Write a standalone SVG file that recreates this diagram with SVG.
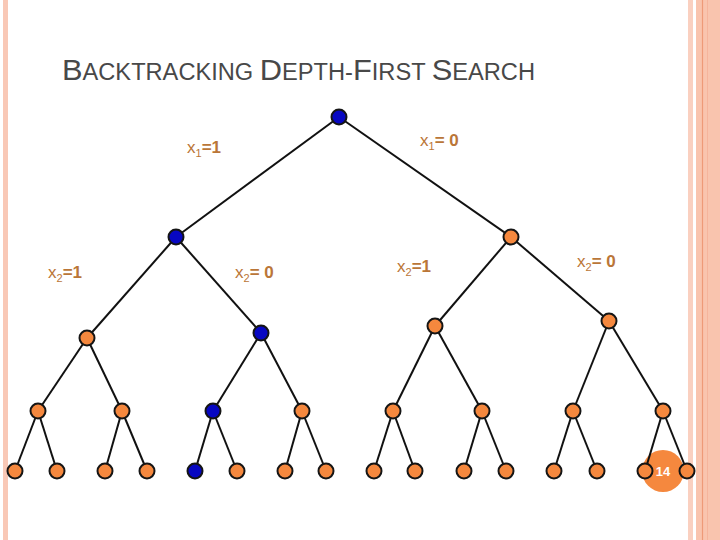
<svg xmlns="http://www.w3.org/2000/svg" width="720" height="540" viewBox="0 0 720 540">
<style>
.lbl{font-family:"Liberation Sans",Arial,sans-serif;font-size:17px;fill:#BA7638}
.sub{font-size:11px}
.b{font-weight:bold}
.o{fill:#F5883E;stroke:#151515;stroke-width:2}
.u{fill:#0707C2;stroke:#151515;stroke-width:2}
.e line{stroke:#111;stroke-width:2}
</style>
<rect width="720" height="540" fill="#fff"/>
<rect x="3" y="0" width="5" height="540" fill="#F9C8B6"/>
<rect x="688" y="0" width="5" height="540" fill="#FAD0C0"/>
<rect x="696" y="0" width="24" height="540" fill="#F9C4AE"/>
<line x1="702.5" y1="0" x2="702.5" y2="540" stroke="#EE9A78" stroke-width="1.2"/>
<line x1="707.5" y1="0" x2="707.5" y2="540" stroke="#F5B49C" stroke-width="1"/>
<text x="62" y="80" textLength="473" lengthAdjust="spacingAndGlyphs" font-family="'Liberation Sans',Arial,sans-serif" fill="#484848" font-size="23"><tspan font-size="30">B</tspan>ACKTRACKING <tspan font-size="30">D</tspan>EPTH-<tspan font-size="30">F</tspan>IRST <tspan font-size="30">S</tspan>EARCH</text>
<g id="page-number"><circle cx="663" cy="471" r="21" fill="#F5883E"/><text x="663" y="476" text-anchor="middle" font-family="'Liberation Sans',Arial,sans-serif" font-size="13" font-weight="bold" fill="#fff">14</text></g>
<g id="connectors" class="e">
<line x1="339" y1="117" x2="176" y2="237"/>
<line x1="339" y1="117" x2="511" y2="237"/>
<line x1="176" y1="237" x2="87" y2="338"/>
<line x1="176" y1="237" x2="261" y2="333"/>
<line x1="511" y1="237" x2="435" y2="326"/>
<line x1="511" y1="237" x2="609" y2="321"/>
<line x1="87" y1="338" x2="38" y2="411"/>
<line x1="87" y1="338" x2="122" y2="411"/>
<line x1="261" y1="333" x2="213" y2="411"/>
<line x1="261" y1="333" x2="302" y2="411"/>
<line x1="435" y1="326" x2="393" y2="411"/>
<line x1="435" y1="326" x2="482" y2="411"/>
<line x1="609" y1="321" x2="573" y2="411"/>
<line x1="609" y1="321" x2="663" y2="411"/>
<line x1="38" y1="411" x2="15" y2="471"/>
<line x1="38" y1="411" x2="57" y2="471"/>
<line x1="122" y1="411" x2="105" y2="471"/>
<line x1="122" y1="411" x2="147" y2="471"/>
<line x1="213" y1="411" x2="195" y2="471"/>
<line x1="213" y1="411" x2="237" y2="471"/>
<line x1="302" y1="411" x2="285" y2="471"/>
<line x1="302" y1="411" x2="326" y2="471"/>
<line x1="393" y1="411" x2="374" y2="471"/>
<line x1="393" y1="411" x2="415" y2="471"/>
<line x1="482" y1="411" x2="464" y2="471"/>
<line x1="482" y1="411" x2="506" y2="471"/>
<line x1="573" y1="411" x2="554" y2="471"/>
<line x1="573" y1="411" x2="597" y2="471"/>
<line x1="663" y1="411" x2="645" y2="471"/>
<line x1="663" y1="411" x2="687" y2="471"/>
</g>
<g id="n0"><circle class="u" cx="339" cy="117" r="7.5"/></g>
<g id="n1"><circle class="u" cx="176" cy="237" r="7.5"/></g>
<g id="n2"><circle class="o" cx="511" cy="237" r="7.5"/></g>
<g id="n3"><circle class="o" cx="87" cy="338" r="7.5"/></g>
<g id="n4"><circle class="u" cx="261" cy="333" r="7.5"/></g>
<g id="n5"><circle class="o" cx="435" cy="326" r="7.5"/></g>
<g id="n6"><circle class="o" cx="609" cy="321" r="7.5"/></g>
<g id="n7"><circle class="o" cx="38" cy="411" r="7.5"/></g>
<g id="n8"><circle class="o" cx="122" cy="411" r="7.5"/></g>
<g id="n9"><circle class="u" cx="213" cy="411" r="7.5"/></g>
<g id="n10"><circle class="o" cx="302" cy="411" r="7.5"/></g>
<g id="n11"><circle class="o" cx="393" cy="411" r="7.5"/></g>
<g id="n12"><circle class="o" cx="482" cy="411" r="7.5"/></g>
<g id="n13"><circle class="o" cx="573" cy="411" r="7.5"/></g>
<g id="n14"><circle class="o" cx="663" cy="411" r="7.5"/></g>
<g id="n15"><circle class="o" cx="15" cy="471" r="7.5"/></g>
<g id="n16"><circle class="o" cx="57" cy="471" r="7.5"/></g>
<g id="n17"><circle class="o" cx="105" cy="471" r="7.5"/></g>
<g id="n18"><circle class="o" cx="147" cy="471" r="7.5"/></g>
<g id="n19"><circle class="u" cx="195" cy="471" r="7.5"/></g>
<g id="n20"><circle class="o" cx="237" cy="471" r="7.5"/></g>
<g id="n21"><circle class="o" cx="285" cy="471" r="7.5"/></g>
<g id="n22"><circle class="o" cx="326" cy="471" r="7.5"/></g>
<g id="n23"><circle class="o" cx="374" cy="471" r="7.5"/></g>
<g id="n24"><circle class="o" cx="415" cy="471" r="7.5"/></g>
<g id="n25"><circle class="o" cx="464" cy="471" r="7.5"/></g>
<g id="n26"><circle class="o" cx="506" cy="471" r="7.5"/></g>
<g id="n27"><circle class="o" cx="554" cy="471" r="7.5"/></g>
<g id="n28"><circle class="o" cx="597" cy="471" r="7.5"/></g>
<g id="n29"><circle class="o" cx="645" cy="471" r="7.5"/></g>
<g id="n30"><circle class="o" cx="687" cy="471" r="7.5"/></g>
<g id="labels">
<text class="lbl" x="187" y="153">x<tspan class="sub" dy="4">1</tspan><tspan class="b" dy="-4">=1</tspan></text>
<text class="lbl" x="420" y="146">x<tspan class="sub" dy="4">1</tspan><tspan class="b" dy="-4">= 0</tspan></text>
<text class="lbl" x="48" y="278">x<tspan class="sub" dy="4">2</tspan><tspan class="b" dy="-4">=1</tspan></text>
<text class="lbl" x="235" y="278">x<tspan class="sub" dy="4">2</tspan><tspan class="b" dy="-4">= 0</tspan></text>
<text class="lbl" x="397" y="272">x<tspan class="sub" dy="4">2</tspan><tspan class="b" dy="-4">=1</tspan></text>
<text class="lbl" x="577" y="267">x<tspan class="sub" dy="4">2</tspan><tspan class="b" dy="-4">= 0</tspan></text>
</g>
</svg>
